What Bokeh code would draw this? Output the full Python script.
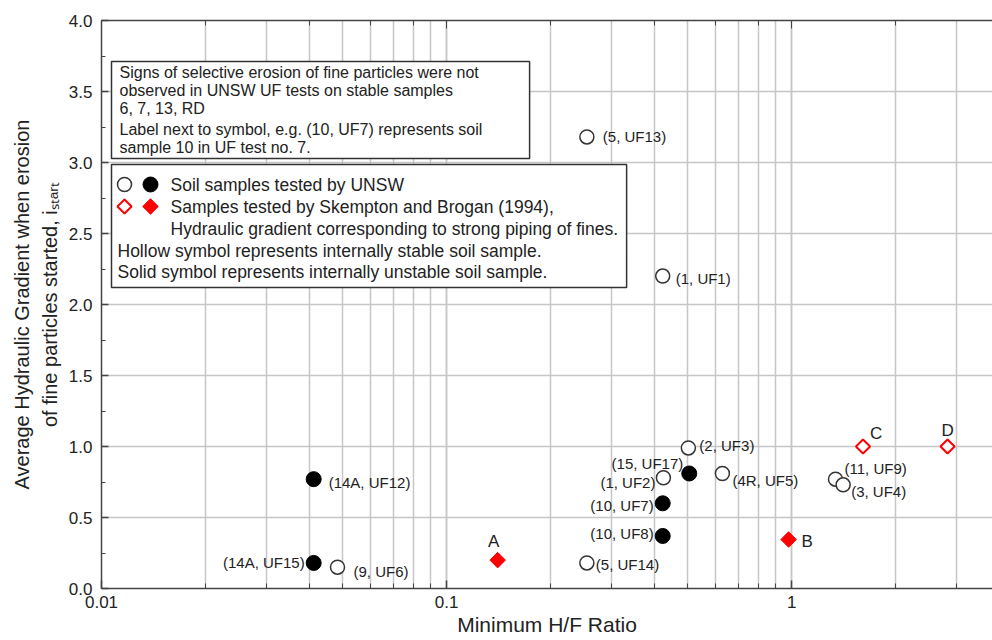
import numpy as np
from bokeh.plotting import figure
from bokeh.models import (Range1d, LogAxis, LogTicker, SingleIntervalTicker,
                          BoxAnnotation, Label, Title,
                          PrintfTickFormatter, ColumnDataSource)
from bokeh.core.properties import value
from bokeh.embed import file_html
from bokeh.resources import INLINE

# ---------------- data ----------------
# UNSW, internally stable (hollow circles)
stable_x = [0.255, 0.423, 0.502, 0.425, 0.63, 1.34, 1.41, 0.0483, 0.255]
stable_y = [3.18, 2.20, 0.99, 0.78, 0.81, 0.77, 0.73, 0.15, 0.18]
stable_lbl = ["(5, UF13)", "(1, UF1)", "(2, UF3)", "(1, UF2)", "(4R, UF5)",
              "(11, UF9)", "(3, UF4)", "(9, UF6)", "(5, UF14)"]
# UNSW, internally unstable (solid circles)
unstable_x = [0.0412, 0.0412, 0.423, 0.423, 0.505]
unstable_y = [0.77, 0.18, 0.60, 0.37, 0.81]
unstable_lbl = ["(14A, UF12)", "(14A, UF15)", "(10, UF7)", "(10, UF8)", "(15, UF17)"]
# Skempton and Brogan (1994)
sb_stable_x = [1.61, 2.83]
sb_stable_y = [1.0, 1.0]
sb_stable_lbl = ["C", "D"]
sb_unstable_x = [0.1406, 0.98]
sb_unstable_y = [0.20, 0.345]
sb_unstable_lbl = ["A", "B"]

y_ticks_interval = 0.5
x_tick_labels = {0.01: "0.01", 0.1: "0.1", 1: "1"}

# label placement (pixels) -- styling only
stable_dx = [16, 13, 11, -8, 10, 9, 8, 16, 9]
stable_dy = [0, 2, -2, 5, 7, -11, 7, 4, 2]
stable_al = ["left", "left", "left", "right", "left", "left", "left", "left", "left"]
unstable_dx = [15, -9, -9, -9, -6]
unstable_dy = [3, 0, 2, -2, -10]
unstable_al = ["left", "right", "right", "right", "right"]
sb_st_dx, sb_st_dy, sb_st_al = [7, 0], [-13, -16], ["left", "center"]
sb_un_dx, sb_un_dy, sb_un_al = [-4, 13], [-19, 2], ["center", "left"]

FONT = "Liberation Sans"
TXT = "#222222"
AX = "#444444"
GRID = "#c6c6c6"

# page-pixel -> data helpers (for annotation layout only)
def fx(px):
    return 10 ** ((px - 101) / 345.0 - 2)

def fy(py):
    return (588 - py) / 142.0

p = figure(width=992, height=640, x_axis_type="log",
           x_range=Range1d(0.01, 3.82), y_range=Range1d(0, 4),
           output_backend="svg", toolbar_location=None,
           min_border_left=101, min_border_right=0,
           min_border_top=20, min_border_bottom=52)
p.outline_line_color = None
p.background_fill_color = "white"
p.border_fill_color = "white"

# axes
xa = p.xaxis[0]
xa.major_label_overrides = x_tick_labels
xa.major_tick_in = 8
xa.major_tick_out = 0
xa.minor_tick_in = 5
xa.minor_tick_out = 0
xa.major_label_standoff = 7
ya = p.yaxis[0]
ya.ticker = SingleIntervalTicker(interval=y_ticks_interval, num_minor_ticks=2)
ya.formatter = PrintfTickFormatter(format="%.1f")
ya.major_tick_in = 7
ya.major_tick_out = 0
ya.minor_tick_in = 4
ya.minor_tick_out = 0
ya.major_label_standoff = 9
for ax in [xa, ya]:
    ax.axis_line_color = AX
    ax.axis_line_width = 1.5
    ax.major_tick_line_color = AX
    ax.minor_tick_line_color = AX
    ax.major_tick_line_width = 1.5
    ax.major_label_text_font = FONT
    ax.major_label_text_font_size = "17px"
    ax.major_label_text_color = TXT

top = LogAxis(ticker=LogTicker(), major_label_text_font_size="8px",
              major_label_text_alpha=0,
              major_label_standoff=0, major_tick_in=8, major_tick_out=0,
              minor_tick_in=5, minor_tick_out=0, axis_line_color=AX,
              axis_line_width=1.5, major_tick_line_color=AX,
              minor_tick_line_color=AX)
p.add_layout(top, "above")

p.xgrid.grid_line_color = GRID
p.xgrid.grid_line_width = 1.5
p.xgrid.minor_grid_line_color = GRID
p.xgrid.minor_grid_line_width = 1.5
p.ygrid.ticker = ya.ticker
p.ygrid.grid_line_color = GRID
p.ygrid.grid_line_width = 1.5

# axis titles (as side titles so they sit outside the frame)
p.add_layout(Title(text="of fine particles started, i\u209b\u209c\u2090\u1d63\u209c",
                   align="center", text_font=FONT, text_font_size="20px",
                   text_font_style="normal", text_color=TXT, standoff=10), "left")
p.add_layout(Title(text="Average Hydraulic Gradient when erosion",
                   align="center", text_font=FONT, text_font_size="20px",
                   text_font_style="normal", text_color=TXT, standoff=-3), "left")
p.add_layout(Title(text="Minimum H/F Ratio", align="center", text_font=FONT,
                   text_font_size="21px", text_font_style="normal",
                   text_color=TXT, standoff=0), "below")

# data marks
p.scatter(stable_x, stable_y, marker="circle", size=14, fill_color="white",
          line_color="#333333", line_width=1.5)
p.scatter(unstable_x, unstable_y, marker="circle", size=15, fill_color="black",
          line_color="black")
p.scatter(sb_stable_x, sb_stable_y, marker="square", angle=np.pi / 4, size=10,
          fill_color="white", line_color="red", line_width=2)
p.scatter(sb_unstable_x, sb_unstable_y, marker="square", angle=np.pi / 4, size=11,
          fill_color="red", line_color="red")

def labels(xs, ys, txt, dx, dy, al, size):
    src = ColumnDataSource(dict(x=xs, y=ys, t=txt, dx=dx, dy=dy, al=al))
    p.text(x="x", y="y", text="t", x_offset="dx", y_offset="dy", text_align="al",
           source=src, text_baseline="middle", text_font=value(FONT),
           text_font_size=size, text_color=TXT)

labels(stable_x, stable_y, stable_lbl, stable_dx, stable_dy, stable_al, "15px")
labels(unstable_x, unstable_y, unstable_lbl, unstable_dx, unstable_dy, unstable_al, "15px")
labels(sb_stable_x, sb_stable_y, sb_stable_lbl, sb_st_dx, sb_st_dy, sb_st_al, "17px")
labels(sb_unstable_x, sb_unstable_y, sb_unstable_lbl, sb_un_dx, sb_un_dy, sb_un_al, "17px")

# note box
p.add_layout(BoxAnnotation(left=fx(111), right=fx(529), top=fy(61), bottom=fy(158),
                           fill_color="white", fill_alpha=1, line_color="#333333",
                           line_width=1.5, line_alpha=1))
note_lines = ["Signs of selective erosion of fine particles were not",
              "observed in UNSW UF tests on stable samples",
              "6, 7, 13, RD",
              "Label next to symbol, e.g. (10, UF7) represents soil",
              "sample 10 in UF test no. 7."]
note_y = [72, 90, 108, 129, 147]
for t, yy in zip(note_lines, note_y):
    p.add_layout(Label(x=fx(119), y=fy(yy), text=t, text_font=FONT,
                       text_font_size="16px", text_color=TXT,
                       text_baseline="middle", text_align="left"))

# legend box
p.add_layout(BoxAnnotation(left=fx(111), right=fx(626), top=fy(164), bottom=fy(287),
                           fill_color="white", fill_alpha=1, line_color="#333333",
                           line_width=1.5, line_alpha=1))
r1 = p.scatter([fx(124)], [fy(184)], marker="circle", size=14, fill_color="white",
               line_color="#333333", line_width=1.5)
r2 = p.scatter([fx(150)], [fy(184)], marker="circle", size=15, fill_color="black",
               line_color="black")
r3 = p.scatter([fx(124)], [fy(206)], marker="square", angle=np.pi / 4, size=10,
               fill_color="white", line_color="red", line_width=2)
r4 = p.scatter([fx(150)], [fy(206)], marker="square", angle=np.pi / 4, size=11,
               fill_color="red", line_color="red")
for r in (r1, r2, r3, r4):
    r.level = "overlay"
leg_lines = [("Soil samples tested by UNSW", 170, 184),
             ("Samples tested by Skempton and Brogan (1994),", 170, 206),
             ("Hydraulic gradient corresponding to strong piping of fines.", 170, 228),
             ("Hollow symbol represents internally stable soil sample.", 117, 250),
             ("Solid symbol represents internally unstable soil sample.", 117, 271)]
for t, xx, yy in leg_lines:
    p.add_layout(Label(x=fx(xx), y=fy(yy), text=t, text_font=FONT,
                       text_font_size="17.5px", text_color=TXT,
                       text_baseline="middle", text_align="left"))

open("out.html", "w").write(file_html(p, INLINE))
